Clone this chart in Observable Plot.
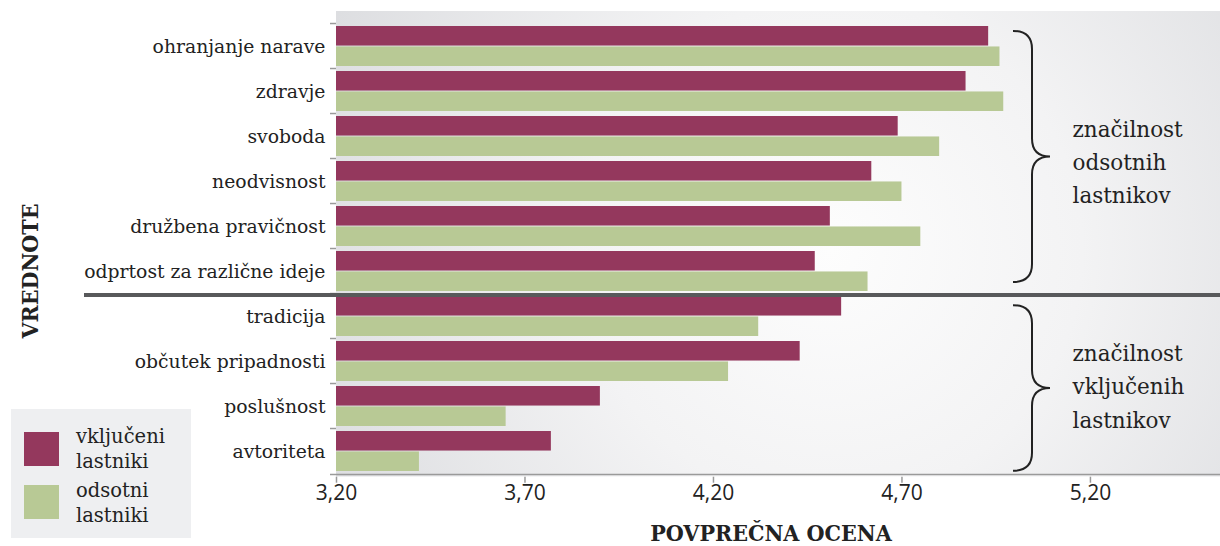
<!DOCTYPE html>
<html><head><meta charset="utf-8">
<script src="https://cdn.jsdelivr.net/npm/d3@7"></script>
<script src="https://cdn.jsdelivr.net/npm/@observablehq/plot@0.6"></script>
<style>
html,body{margin:0;padding:0;background:#fff;}
#wrap{position:relative;width:1220px;height:546px;font-family:"DejaVu Serif",serif;color:#222;}
#wrap svg{position:absolute;left:0;top:0;}
.xtitle{position:absolute;left:571px;width:400px;top:521px;height:24px;text-align:center;font-family:"DejaVu Serif Condensed","DejaVu Serif",serif;font-weight:bold;font-size:23px;line-height:23px;color:#222;}
.ytitle{position:absolute;left:-70px;width:200px;top:256px;height:30px;line-height:30px;text-align:center;font-family:"DejaVu Serif Condensed","DejaVu Serif",serif;font-weight:bold;font-size:23px;color:#222;transform:rotate(-90deg);}
.legend{position:absolute;left:11px;top:409px;width:180px;height:129px;background:#eeeff1;}
.sw{position:absolute;left:13px;width:35px;height:34px;}
.lt{position:absolute;left:65px;font-size:19.5px;line-height:25px;color:#222;white-space:nowrap;}
</style></head><body><div id="wrap"></div>
<script>
const categories = ["ohranjanje narave","zdravje","svoboda","neodvisnost","družbena pravičnost","odprtost za različne ideje","tradicija","občutek pripadnosti","poslušnost","avtoriteta"];
const vkljuceni = [4.93, 4.87, 4.69, 4.62, 4.51, 4.47, 4.54, 4.43, 3.90, 3.77];
const odsotni   = [4.96, 4.97, 4.80, 4.70, 4.75, 4.61, 4.32, 4.24, 3.65, 3.42];
const seriesNames = ["vključeni\nlastniki", "odsotni\nlastniki"];
const seriesColors = ["#94385d", "#b8c995"];
const xTicks = [3.20, 3.70, 4.20, 4.70, 5.20];
const xDomain = [3.20, 5.545];
const groupLabels = ["značilnost\nodsotnih\nlastnikov", "značilnost\nvključenih\nlastnikov"];
const xTitle = "POVPREČNA OCENA";
const yTitle = "VREDNOTE";

const W = 1220, H = 546, mL = 336, mR = 0, mT = 12, mB = 69.3;
const pi = 0.11, po = 0.11, al = 0.73;
const yBand = d3.scaleBand(categories, [mT, H - mB]).paddingInner(pi).paddingOuter(po).align(al);
const step = yBand.step(), bw = yBand.bandwidth();
const frameH = H - mT - mB;
const pxPerUnit = (W - mL - mR) / (xDomain[1] - xDomain[0]);
const px2x = p => xDomain[0] + (p - mL) / pxPerUnit;
const x0 = xDomain[0];
const annotX = px2x(1072);
const fmt = d => d.toFixed(2).replace(".", ",");

const data = categories.flatMap((c, i) => [
  {cat: c, s: 0, v: vkljuceni[i]},
  {cat: c, s: 1, v: odsotni[i]}
]);

const plot = Plot.plot({
  width: W, height: H, marginLeft: mL, marginRight: mR, marginTop: mT, marginBottom: mB,
  style: {fontFamily: "DejaVu Serif", background: "transparent", color: "#222", overflow: "visible"},
  x: {domain: xDomain, axis: null},
  y: {domain: categories, paddingInner: pi, paddingOuter: po, align: al},
  marks: [
    Plot.barX(data.filter(d => d.s === 0), {y: "cat", x1: () => x0, x2: "v", fill: seriesColors[0], insetBottom: bw / 2}),
    Plot.barX(data.filter(d => d.s === 1), {y: "cat", x1: () => x0, x2: "v", fill: seriesColors[1], insetTop: bw / 2}),
    Plot.ruleX(categories, {x: () => x0, y: d => d, dx: -1, insetTop: -(step - bw) / 2, insetBottom: -(step - bw) / 2, stroke: "#9a9a9a", strokeWidth: 1.5}),
    Plot.ruleY(categories, {y: d => d, dy: -step / 2, x1: () => px2x(330), x2: () => x0, stroke: "#9a9a9a", strokeWidth: 1.5}),
    Plot.ruleY([categories[categories.length - 1]], {y: d => d, dy: step / 2, x1: () => px2x(330), x2: () => xDomain[1], stroke: "#9a9a9a", strokeWidth: 1.5}),
    Plot.ruleY([categories[6]], {y: d => d, dy: -step / 2 + 1.5, x1: () => px2x(84), x2: () => xDomain[1], stroke: "#58595b", strokeWidth: 4}),
    Plot.axisY({tickSize: 0, tickPadding: 11, fontSize: 18.8, label: null}),
    Plot.ruleX(xTicks, {x: d => d, insetTop: frameH, insetBottom: -6, stroke: "#9a9a9a", strokeWidth: 1.5}),
    Plot.text(xTicks, {x: d => d, frameAnchor: "bottom", dy: 23, text: fmt, fontSize: 21, fontFamily: "Open Sans", fill: "#222"}),
    Plot.text([groupLabels[0]], {x: () => annotX, y: () => categories[2], dy: step / 2, text: d => d, textAnchor: "start", lineAnchor: "middle", lineHeight: 1.55, fontSize: 21.5, fill: "#222"}),
    Plot.text([groupLabels[1]], {x: () => annotX, y: () => categories[8], dy: -step / 2, text: d => d, textAnchor: "start", lineAnchor: "middle", lineHeight: 1.55, fontSize: 21.5, fill: "#222"})
  ]
});

const wrap = document.getElementById("wrap");
wrap.appendChild(plot);

const svg = d3.select(plot);
const catSet = new Set(categories);
svg.selectAll("text").filter(function() { return catSet.has(this.textContent.trim()); })
  .style("font-size", "18.8px").style("fill", "#222");

const defs = svg.insert("defs", ":first-child");
const g = defs.append("radialGradient").attr("id", "bgGrad").attr("gradientUnits", "userSpaceOnUse")
  .attr("cx", 830).attr("cy", 250).attr("r", 560);
g.append("stop").attr("offset", 0).attr("stop-color", "#fdfdfd");
g.append("stop").attr("offset", 0.45).attr("stop-color", "#f3f3f4");
g.append("stop").attr("offset", 1).attr("stop-color", "#dcdde0");
const bgTop = 11, bgBottom = yBand(categories[9]) + bw + (step - bw) / 2;
svg.insert("rect", "defs + *").attr("x", mL).attr("y", bgTop).attr("width", W - mL).attr("height", bgBottom - bgTop).attr("fill", "url(#bgGrad)");

function brace(top, bottom, xs, xt, xe) {
  const mid = (top + bottom) / 2, c = 18;
  return `M${xt},${top} Q${xs},${top} ${xs},${top + c} L${xs},${mid - c} Q${xs},${mid} ${xe},${mid} Q${xs},${mid} ${xs},${mid + c} L${xs},${bottom - c} Q${xs},${bottom} ${xt},${bottom}`;
}
const xs = mL + (px2x(1032) - x0) * pxPerUnit;
const b1t = yBand(categories[0]) + 11.6, b1b = yBand(categories[5]) + bw - 8;
const b2t = yBand(categories[6]) + 10, b2b = yBand(categories[9]) + bw - 3.2;
svg.append("path").attr("d", brace(b1t, b1b, xs, xs - 19, xs + 18)).attr("fill", "none").attr("stroke", "#222").attr("stroke-width", 2);
svg.append("path").attr("d", brace(b2t, b2b, xs, xs - 19, xs + 18)).attr("fill", "none").attr("stroke", "#222").attr("stroke-width", 2);

const xt = document.createElement("div"); xt.className = "xtitle"; xt.textContent = xTitle; wrap.appendChild(xt);
const yt = document.createElement("div"); yt.className = "ytitle"; yt.textContent = yTitle; wrap.appendChild(yt);
const lg = document.createElement("div"); lg.className = "legend"; wrap.appendChild(lg);
seriesNames.forEach((n, i) => {
  const sw = document.createElement("div"); sw.className = "sw"; sw.style.top = (23 + i * 53) + "px"; sw.style.background = seriesColors[i]; lg.appendChild(sw);
  const t = document.createElement("div"); t.className = "lt"; t.style.top = (14.6 + i * 54) + "px"; t.innerHTML = n.split("\n").join("<br>"); lg.appendChild(t);
});
</script></body></html>
